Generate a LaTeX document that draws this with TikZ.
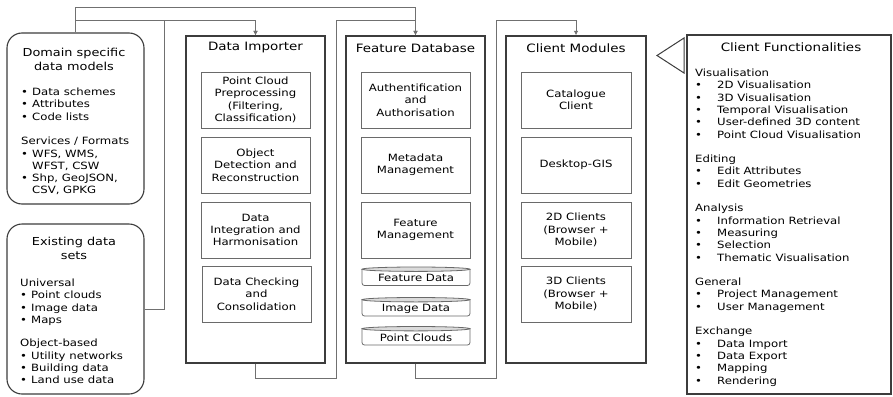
\documentclass[tikz,border=0pt]{standalone}
\usepackage{fontspec}
\setmainfont{DejaVu Sans}[FakeStretch=1.17]
\usetikzlibrary{arrows.meta,calc}
\definecolor{boxc}{HTML}{3C3C3C}
\definecolor{innc}{HTML}{6A6A6A}
\definecolor{linec}{HTML}{707070}
\newcommand\myb{\makebox[11pt][l]{•}}
\newcommand\myi{\hspace*{11pt}}
\newcommand\myw{\makebox[22pt][l]{•}}
\newcommand\titlef{\fontsize{11.5}{14}\selectfont}
\newcommand\ltitlef{\fontsize{11}{14}\selectfont}
\newcommand\itemf{\fontsize{10}{12.3}\selectfont}
\begin{document}
\begin{tikzpicture}[x=1pt,y=-1pt,
  container/.style={draw=boxc, line width=1.3pt, inner sep=0pt},
  rbox/.style={draw=boxc, line width=1.1pt, rounded corners=15pt, inner sep=0pt},
  inbox/.style={draw=innc, line width=0.8pt, inner sep=0pt, align=center, font=\itemf, minimum height=56pt},
  ttl/.style={font=\titlef, inner sep=0pt, align=center},
  lttl/.style={font=\ltitlef, inner sep=0pt, align=center},
  lst/.style={font=\itemf, inner sep=0pt, anchor=base west},
  cyltxt/.style={font=\itemf, inner sep=0pt},
  cylsh/.style={draw=innc, line width=0.8pt},
  conn/.style={draw=linec, line width=0.8pt},
  arr/.style={conn, -{Latex[length=4.5pt,width=4.5pt]}}]
\useasboundingbox (0,0) rectangle (893,396);

% left rounded boxes
\node[rbox, minimum width=137pt, minimum height=171pt] (dom) at (75.5,118.5) {};
\node[lttl] (domt) at (74,59) {Domain specific\\data models};
\node[lst] (doml) at (21,95.5) {\begin{tabular}[t]{@{}l@{}}
\myb Data schemes\\
\myb Attributes\\
\myb Code lists\\[12.3pt]
Services / Formats\\
\myb WFS, WMS,\\
\myi WFST, CSW\\
\myb Shp, GeoJSON,\\
\myi CSV, GPKG
\end{tabular}};

\node[rbox, minimum width=137pt, minimum height=170pt] (ex) at (75.5,309) {};
\node[lttl] (ext) at (74,248.5) {Existing data\\sets};
\node[lst] (exl) at (20,286.5) {\begin{tabular}[t]{@{}l@{}}
Universal\\
\myb Point clouds\\
\myb Image data\\
\myb Maps\\[11pt]
Object-based\\
\myb Utility networks\\
\myb Building data\\
\myb Land use data
\end{tabular}};

% Data Importer
\node[container, minimum width=139pt, minimum height=327pt] (imp) at (255.5,199.5) {};
\node[ttl] (impt) at (255.5,48) {Data Importer};
\node[inbox, minimum width=109pt] (pcp) at (255.5,100) {Point Cloud\\Preprocessing\\(Filtering,\\Classification)};
\node[inbox, minimum width=109pt] (odr) at (255.5,165) {Object\\Detection and\\Reconstruction};
\node[inbox, minimum width=109pt] (dih) at (255.5,230) {Data\\Integration and\\Harmonisation};
\node[inbox, minimum width=109pt] (dcc) at (256.5,294) {Data Checking\\and\\Consolidation};

% Feature Database
\node[container, minimum width=139pt, minimum height=327pt] (fdb) at (415.5,199.5) {};
\node[ttl] (fdbt) at (415.5,48) {Feature Database};
\node[inbox, minimum width=109pt] (aa) at (415.5,100) {Authentification\\and\\Authorisation};
\node[inbox, minimum width=109pt] (mm) at (415.5,165) {Metadata\\Management};
\node[inbox, minimum width=109pt] (fm) at (415.5,230) {Feature\\Management};

% cylinders
\foreach \t in {267, 297.5, 326.5}{
  \draw[cylsh] (362,\t+2.2) -- (362,\t+16) to[out=-90,in=180] (364.5,\t+18.5) -- (467.5,\t+18.5) to[out=0,in=-90] (470,\t+16) -- (470,\t+2.2);
  \draw[cylsh, fill=gray!28] (416,\t+2.2) ellipse (54pt and 2.2pt);
}
\node[cyltxt] (fdd) at (416,278) {Feature Data};
\node[cyltxt] (imd) at (416,308.5) {Image Data};
\node[cyltxt] (pcd) at (416,337.5) {Point Clouds};

% Client Modules
\node[container, minimum width=140pt, minimum height=327pt] (cm) at (576,199.5) {};
\node[ttl] (cmt) at (576,48) {Client Modules};
\node[inbox, minimum width=110pt] (cc) at (576,100) {Catalogue\\Client};
\node[inbox, minimum width=110pt] (dg) at (576,165) {Desktop-GIS};
\node[inbox, minimum width=110pt] (c2) at (576,230) {2D Clients\\(Browser +\\Mobile)};
\node[inbox, minimum width=110pt] (c3) at (576,294) {3D Clients\\(Browser +\\Mobile)};

% Client Functionalities
\node[container, minimum width=204pt, minimum height=359pt] (cf) at (789,214.5) {};
\node[ttl] (cft) at (791,47) {Client Functionalities};
\node[lst] (cfl) at (695,76.5) {\begin{tabular}[t]{@{}l@{}}
Visualisation\\
\myw 2D Visualisation\\
\myw 3D Visualisation\\
\myw Temporal Visualisation\\
\myw User-defined 3D content\\
\myw Point Cloud Visualisation\\[12.3pt]
Editing\\
\myw Edit Attributes\\
\myw Edit Geometries\\[12.3pt]
Analysis\\
\myw Information Retrieval\\
\myw Measuring\\
\myw Selection\\
\myw Thematic Visualisation\\[12.3pt]
General\\
\myw Project Management\\
\myw User Management\\[12.3pt]
Exchange\\
\myw Data Import\\
\myw Data Export\\
\myw Mapping\\
\myw Rendering
\end{tabular}};
\draw[draw=boxc, line width=1pt] (684,38) -- (657,55.5) -- (684,73) -- cycle;

% connectors
\draw[arr] (dom.north) |- (fdb.north |- 0,7) -- (fdb.north);
\draw[arr] (dom.north) |- (imp.north |- 0,20) -- (imp.north);
\draw[arr] (ex.east) -| (164,20) -| (imp.north);
\draw[arr] (imp.south) -- (imp.south |- 0,378) -| (336,20) -| (fdb.north);
\draw[arr] (fdb.south) -- (fdb.south |- 0,378) -| (496,20) -| (cm.north);
\end{tikzpicture}
\end{document}
